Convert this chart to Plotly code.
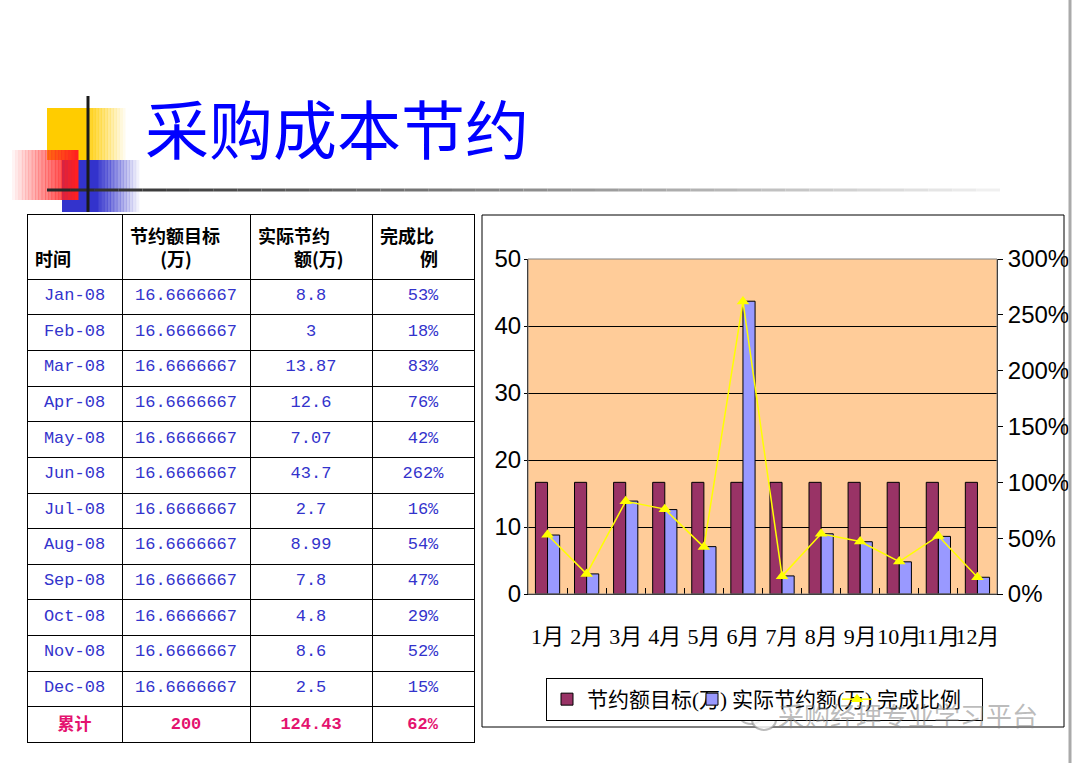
import plotly.graph_objects as go

W, H = 1073, 763

# 数据
times = ["Jan-08", "Feb-08", "Mar-08", "Apr-08", "May-08", "Jun-08",
         "Jul-08", "Aug-08", "Sep-08", "Oct-08", "Nov-08", "Dec-08"]
months = ["1月", "2月", "3月", "4月", "5月", "6月",
          "7月", "8月", "9月", "10月", "11月", "12月"]
target = [16.6666667] * 12
actual = [8.8, 3, 13.87, 12.6, 7.07, 43.7, 2.7, 8.99, 7.8, 4.8, 8.6, 2.5]
ratio = [0.53, 0.18, 0.83, 0.76, 0.42, 2.62, 0.16, 0.54, 0.47, 0.29, 0.52, 0.15]
total_label = "累计"
total_target = "200"
total_actual = "124.43"
total_ratio = "62%"

headers = ["&nbsp;<br>时间", "节约额目标<br>　&nbsp;&nbsp;&nbsp;(万)", "实际节约<br>　　额(万)",
           "完成比<br>　　&nbsp;例"]
series_names = ["节约额目标(万)", "实际节约额(万)", "完成比例"]


def px(x):
    return x / W


def py(y):
    return 1 - y / H


def fade_rect(shapes, x0, x1, y0, y1, color, n, op0, op1):
    # 用多条竖条近似渐变
    step = (x1 - x0) / n
    for i in range(n):
        op = op0 + (op1 - op0) * i / max(n - 1, 1)
        op = min(1.0, max(0.0, op))
        shapes.append(dict(type="rect", xref="paper", yref="paper",
                           x0=px(x0 + i * step), x1=px(x0 + (i + 1) * step + 0.5),
                           y0=py(y1), y1=py(y0), fillcolor=color, opacity=op,
                           line=dict(width=0), layer="below"))


fig = go.Figure()

# 表格
col_time = times + ["<b>" + total_label + "</b>"]
col_target = ["16.6666667"] * 12 + ["<b>" + total_target + "</b>"]
col_actual = [str(v) for v in actual] + ["<b>" + total_actual + "</b>"]
col_ratio = ["%d%%" % round(r * 100) for r in ratio] + ["<b>" + total_ratio + "</b>"]
colors = ["#3333CC"] * 12 + ["#E4136F"]

fig.add_trace(go.Table(
    domain=dict(x=[px(27), px(474)], y=[py(760), py(214)]),
    columnwidth=[95, 128, 122, 102],
    header=dict(values=["<b>%s</b>" % h for h in headers],
                height=60, align="left",
                line=dict(color="black", width=1), fill=dict(color="white"),
                font=dict(family="Noto Sans CJK SC", size=18, color="black")),
    cells=dict(values=[col_time, col_target, col_actual, col_ratio],
               height=35.6, align="center",
               line=dict(color="black", width=1), fill=dict(color="white"),
               font=dict(family="Liberation Mono, Noto Sans CJK SC", size=17,
                         color=[colors] * 4)),
))

# 柱状图 + 折线
fig.add_trace(go.Bar(x=months, y=target, name=series_names[0],
                     marker=dict(color="#993366", line=dict(color="black", width=1))))
fig.add_trace(go.Bar(x=months, y=actual, name=series_names[1],
                     marker=dict(color="#9999FF", line=dict(color="black", width=1))))
fig.add_trace(go.Scatter(x=months, y=ratio, name=series_names[2], yaxis="y2",
                         mode="lines+markers",
                         line=dict(color="#FFFF00", width=1.5),
                         marker=dict(symbol="triangle-up", size=11, color="#FFFF00")))

shapes = []
# 标题装饰
fade_rect(shapes, 47, 86, 108, 160, "#FFCC00", 1, 1, 1)
fade_rect(shapes, 86, 128, 108, 160, "#FFCC00", 14, 0.9, 0.0)
fade_rect(shapes, 62, 98, 160, 212, "#3333CC", 1, 1, 1)
fade_rect(shapes, 98, 142, 160, 212, "#3333CC", 14, 0.9, 0.0)
fade_rect(shapes, 12, 78, 150, 200, "#FF2020", 20, 0.05, 1.0)
# 横线渐变
seg = 40
for i in range(seg):
    g = int(40 + 200 * i / (seg - 1))
    x0 = 47 + (1000 - 47) * i / seg
    x1 = 47 + (1000 - 47) * (i + 1) / seg
    shapes.append(dict(type="line", xref="paper", yref="paper",
                       x0=px(x0), x1=px(x1), y0=py(190), y1=py(190),
                       line=dict(color="rgb(%d,%d,%d)" % (g, g, g), width=3)))
shapes.append(dict(type="line", xref="paper", yref="paper",
                   x0=px(88), x1=px(88), y0=py(96), y1=py(212),
                   line=dict(color="#1a1a1a", width=3)))
# 图表外框
shapes.append(dict(type="rect", xref="paper", yref="paper",
                   x0=px(482), x1=px(1064), y0=py(727), y1=py(215),
                   line=dict(color="black", width=1), layer="below"))
# 绘图区边框
shapes.append(dict(type="rect", xref="x domain", yref="y domain",
                   x0=0, x1=1, y0=0, y1=1, line=dict(color="#808080", width=1)))
# 右侧灰条
shapes.append(dict(type="line", xref="paper", yref="paper",
                   x0=px(1070), x1=px(1070), y0=0, y1=1,
                   line=dict(color="#AAAAAA", width=3)))
# 水印图标
shapes.append(dict(type="circle", xref="paper", yref="paper",
                   x0=px(738), x1=px(764), y0=py(724), y1=py(700),
                   line=dict(color="rgba(130,130,130,0.55)", width=2)))
shapes.append(dict(type="circle", xref="paper", yref="paper",
                   x0=px(752), x1=px(776), y0=py(730), y1=py(710),
                   line=dict(color="rgba(130,130,130,0.55)", width=2),
                   fillcolor="rgba(255,255,255,0.8)"))

tick_font = dict(family="Liberation Sans, Arial", size=24, color="black")

fig.update_layout(
    width=W, height=H,
    margin=dict(l=0, r=0, t=0, b=0, pad=0, autoexpand=False),
    paper_bgcolor="white",
    plot_bgcolor="#FFCC99",
    barmode="group", bargap=0.38, bargroupgap=0,
    shapes=shapes,
    showlegend=True,
    legend=dict(orientation="h", x=px(546), y=py(678), xanchor="left", yanchor="top",
                bordercolor="black", borderwidth=1, bgcolor="white",
                font=dict(family="Liberation Serif, Noto Sans CJK SC", size=21, color="black"),
                itemwidth=30, entrywidth=100, entrywidthmode="pixels",
                traceorder="normal"),
    xaxis=dict(domain=[px(528), px(997)], anchor="y", type="category",
               range=[-0.5, 11.5],
               showline=True, linecolor="black", linewidth=1,
               ticks="inside", ticklen=6, tickcolor="black", tickson="boundaries",
               tickangle=0, showgrid=False, ticklabelstandoff=23,
               tickfont=dict(family="Liberation Serif, Noto Sans CJK SC", size=22, color="black")),
    yaxis=dict(domain=[py(594), py(259)], anchor="x", range=[0, 50], dtick=10,
               showline=True, linecolor="black", linewidth=1,
               showgrid=True, gridcolor="black", gridwidth=1, zeroline=False,
               ticks="outside", ticklen=3, tickcolor="black", ticklabelstandoff=-2,
               tickfont=tick_font),
    yaxis2=dict(overlaying="y", side="right", anchor="x", range=[0, 3], dtick=0.5,
                tickformat=".0%", showline=True, linecolor="black", linewidth=1,
                showgrid=False, zeroline=False,
                ticks="outside", ticklen=5, tickcolor="black",
                tickfont=tick_font),
    annotations=[
        dict(text="采购成本节约", xref="paper", yref="paper", x=px(143), y=py(126),
             xanchor="left", yanchor="middle", showarrow=False,
             font=dict(family="Noto Sans CJK SC", size=64, color="#0000FF")),
        dict(text="采购经理专业学习平台", xref="paper", yref="paper", x=px(1040), y=py(714),
             xanchor="right", yanchor="middle", showarrow=False,
             font=dict(family="Noto Sans CJK SC", size=26, color="rgba(130,130,130,0.55)")),
    ],
)

fig.write_html("out.html", config={"displayModeBar": False},
               post_script=("document.body.style.margin='0';"
                            "document.body.style.overflow='hidden';"
                            "document.documentElement.style.overflow='hidden';"
                            "var gd=document.getElementById('{plot_id}');"
                            "gd.parentElement.style.height='763px';"
                            "gd.parentElement.style.overflow='hidden';"))
